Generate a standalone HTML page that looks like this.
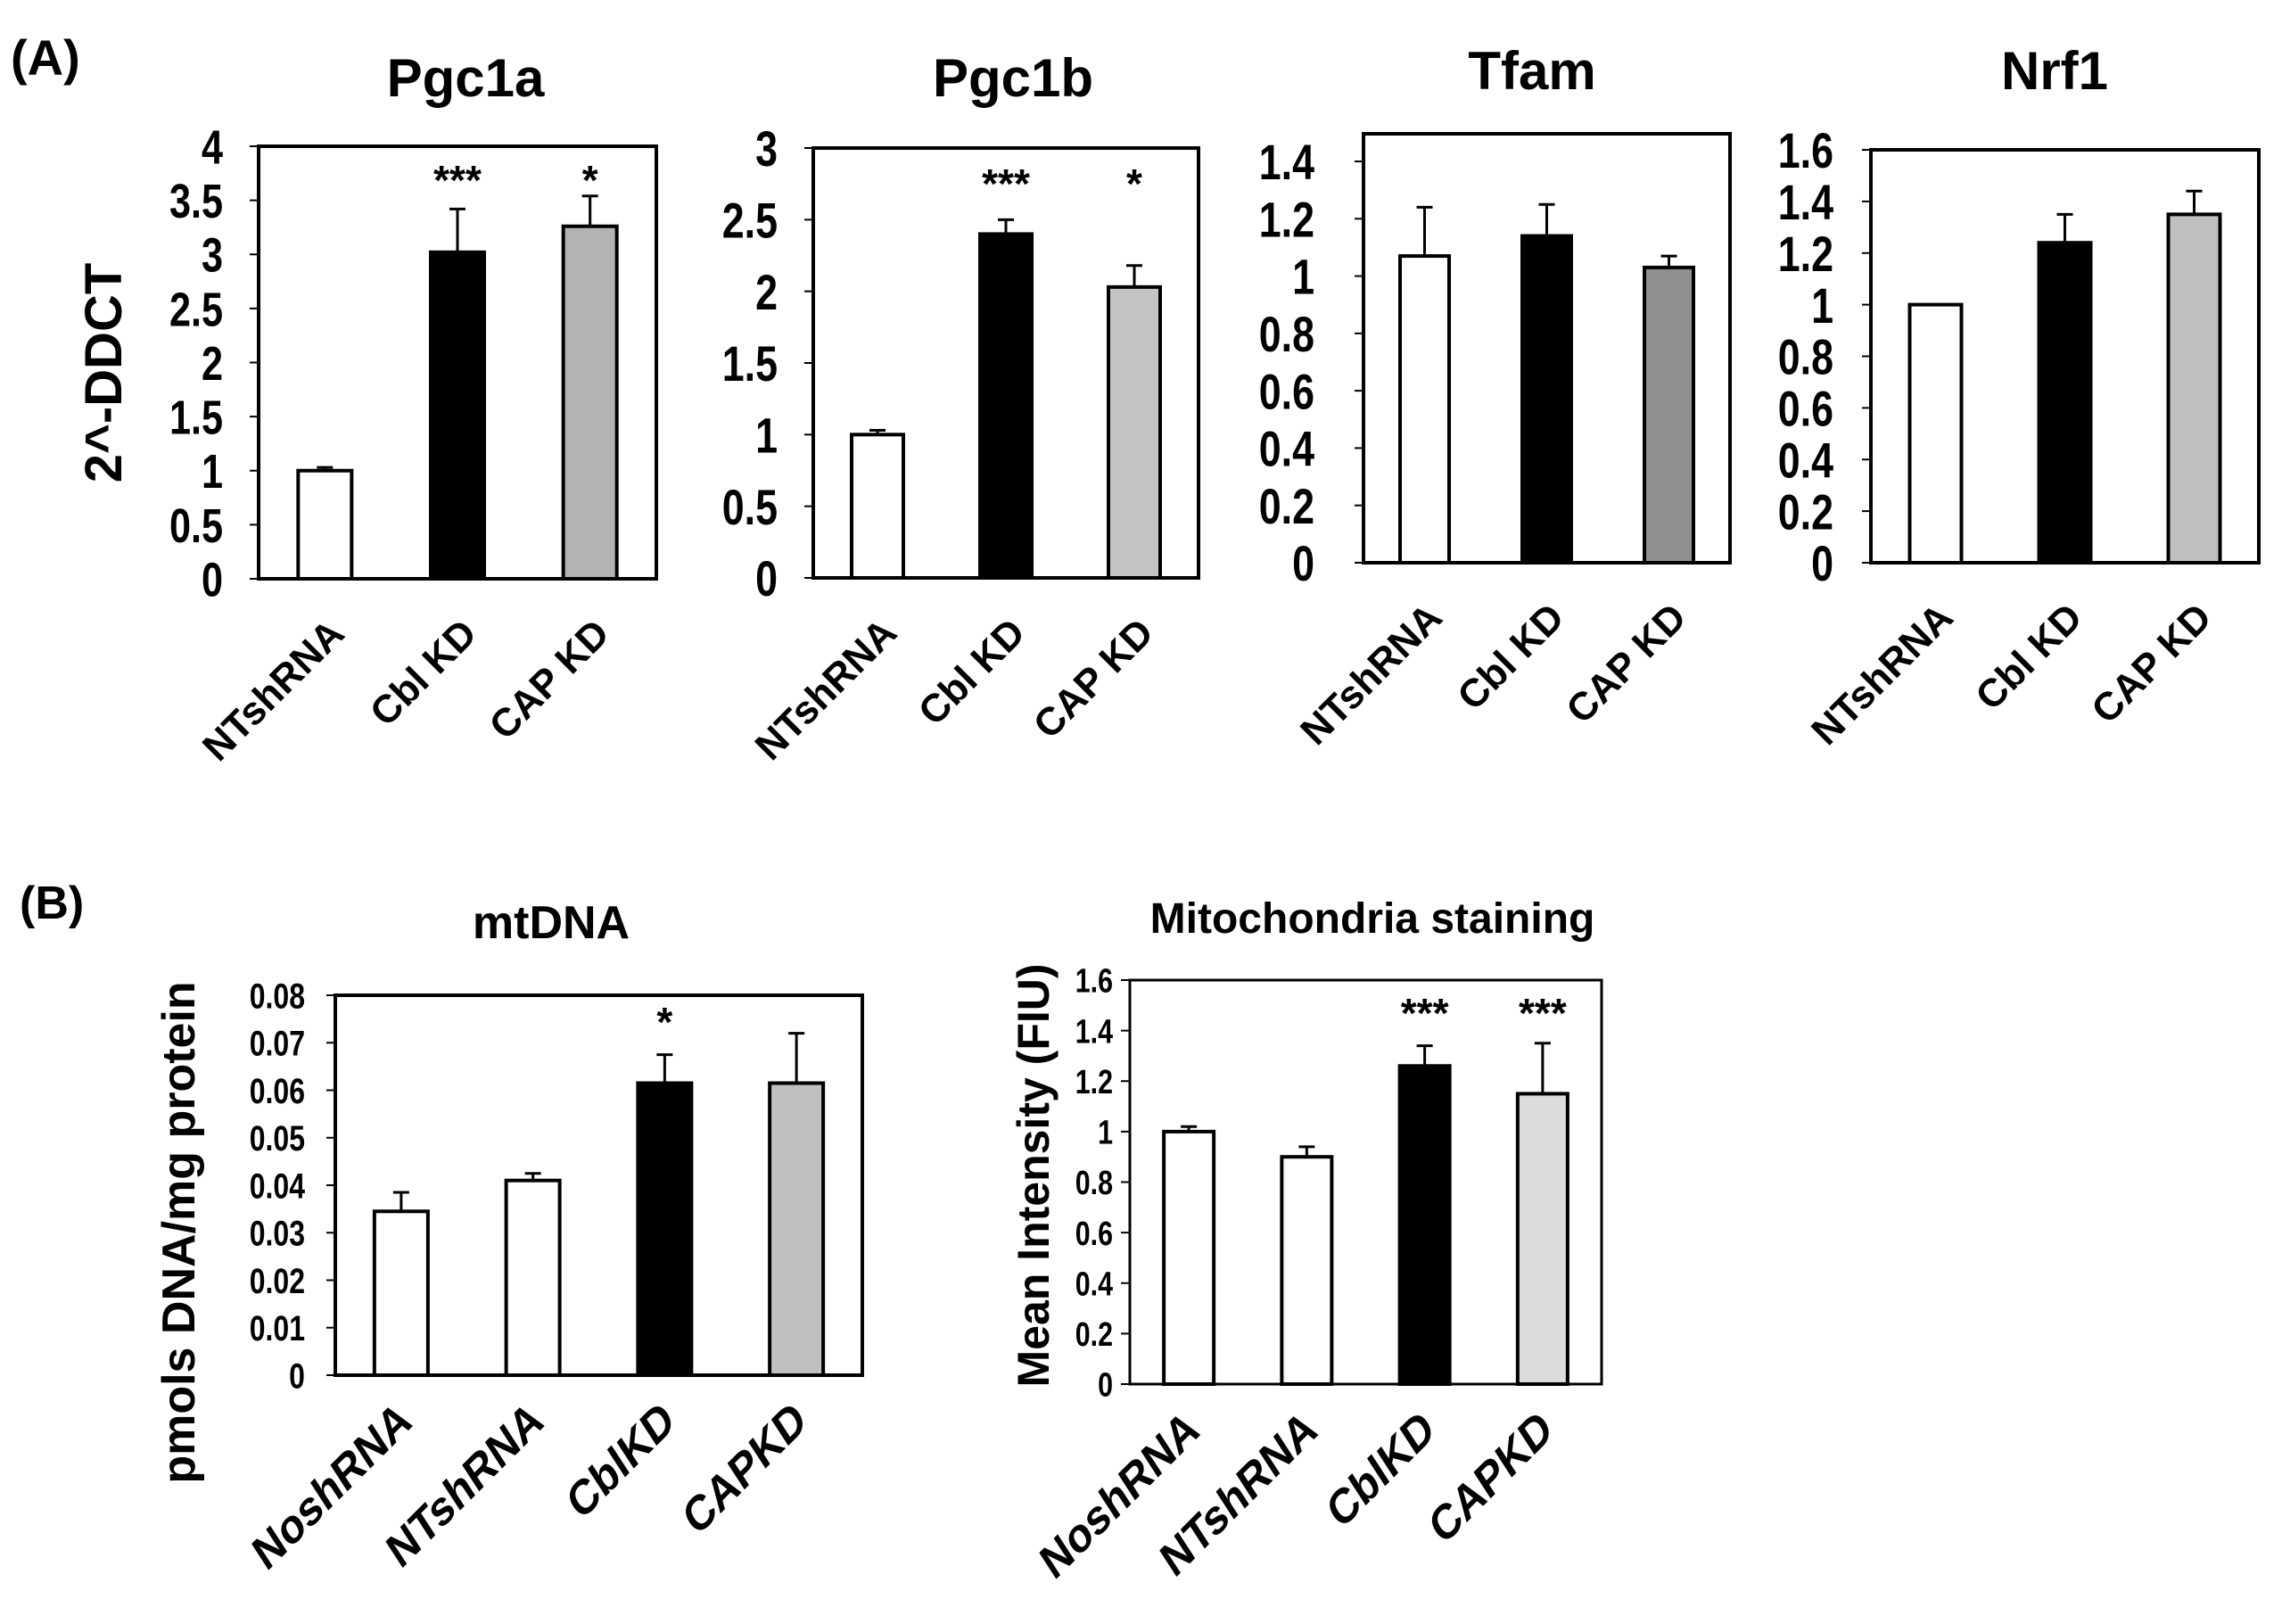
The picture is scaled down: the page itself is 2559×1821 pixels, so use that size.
<!DOCTYPE html>
<html><head><meta charset="utf-8"><style>
html,body{margin:0;padding:0;background:#fff;}
svg{display:block;}
text{font-family:"Liberation Sans",sans-serif;font-weight:bold;fill:#000;}
</style></head><body>
<svg id="fig" width="2559" height="1821" viewBox="0 0 2559 1821" xmlns="http://www.w3.org/2000/svg">
<text x="12" y="84" font-size="56">(A)</text>
<text x="22" y="1030" font-size="52" font-weight="normal">(B)</text>
</svg>
<script>
// ---- data ----
const catsA = ["NTshRNA", "Cbl KD", "CAP KD"];
const catsB = ["NoshRNA", "NTshRNA", "CblKD", "CAPKD"];
const pgc1aValues = [1.0, 3.02, 3.26];
const pgc1aErrors = [0.03, 0.40, 0.28];
const pgc1aStars = ["", "***", "*"];
const pgc1aTicks = ["0","0.5","1","1.5","2","2.5","3","3.5","4"];
const pgc1bValues = [1.0, 2.40, 2.03];
const pgc1bErrors = [0.03, 0.10, 0.15];
const pgc1bStars = ["", "***", "*"];
const pgc1bTicks = ["0","0.5","1","1.5","2","2.5","3"];
const tfamValues = [1.07, 1.14, 1.03];
const tfamErrors = [0.17, 0.11, 0.04];
const tfamStars = ["", "", ""];
const tfamTicks = ["0","0.2","0.4","0.6","0.8","1","1.2","1.4"];
const nrf1Values = [1.0, 1.24, 1.35];
const nrf1Errors = [0.0, 0.11, 0.09];
const nrf1Stars = ["", "", ""];
const nrf1Ticks = ["0","0.2","0.4","0.6","0.8","1","1.2","1.4","1.6"];
const mtdnaValues = [0.0345, 0.041, 0.0615, 0.0615];
const mtdnaErrors = [0.004, 0.0015, 0.006, 0.0105];
const mtdnaStars = ["", "", "*", ""];
const mtdnaTicks = ["0","0.01","0.02","0.03","0.04","0.05","0.06","0.07","0.08"];
const mitoValues = [1.0, 0.90, 1.26, 1.15];
const mitoErrors = [0.02, 0.04, 0.08, 0.20];
const mitoStars = ["", "", "***", "***"];
const mitoTicks = ["0","0.2","0.4","0.6","0.8","1","1.2","1.4","1.6"];

const NS = "http://www.w3.org/2000/svg";
const svg = document.getElementById("fig");
function mk(tag, attrs, parent) {
  const e = document.createElementNS(NS, tag);
  for (const k in attrs) e.setAttribute(k, attrs[k]);
  (parent || svg).appendChild(e);
  return e;
}

function drawPanel(cfg, cats, values, errors, stars, ticks) {
  const g = mk("g", {});
  
  
  const tickVals = ticks.map(Number);
  const tmax = tickVals[tickVals.length - 1];
  const y = v => cfg.y0 - (v / tmax) * (cfg.y0 - cfg.yTop);
  const n = cats.length;
  const slot = (cfg.right - cfg.left) / n;
  const xc = i => cfg.left + slot * (i + 0.5) + (cfg.shift || 0);

  const t = mk("text", {x: cfg.titleX, y: cfg.titleY, "font-size": cfg.titleSize, "text-anchor": "middle"}, g);
  t.textContent = cfg.title;
  
  

  const fr = mk("rect", {x: cfg.left, y: cfg.boxTop, width: cfg.right - cfg.left, height: cfg.y0 - cfg.boxTop, fill: "none", stroke: "#000", "stroke-width": cfg.frameW}, g);
  
  

  tickVals.forEach((v, i) => {
    const ty = y(v);
    const tl = mk("line", {x1: cfg.left - 10, x2: cfg.left, y1: ty, y2: ty, stroke: "#000", "stroke-width": 2}, g);
    
    
    const lab = mk("text", {x: cfg.labRight, y: ty + cfg.tickSize * 0.36, "font-size": cfg.tickSize, "text-anchor": "end"}, g);
    if (cfg.condensed) lab.setAttribute("transform", `translate(${cfg.labRight},0) scale(0.8,1) translate(${-cfg.labRight},0)`);
    lab.textContent = ticks[i];
    
    
  });

  values.forEach((v, i) => {
    const cx = xc(i);
    const top = y(v);
    const b = mk("rect", {x: cx - cfg.barW / 2, y: top, width: cfg.barW, height: cfg.y0 - top, fill: cfg.colors[i], stroke: "#000", "stroke-width": 4}, g);
    
    
    if (errors[i] > 0) {
      const et = y(v + errors[i]);
      const el = mk("line", {x1: cx, x2: cx, y1: top, y2: et, stroke: "#000", "stroke-width": 3}, g);
      
      
      const ec = mk("line", {x1: cx - 9, x2: cx + 9, y1: et, y2: et, stroke: "#000", "stroke-width": 3}, g);
      
      
    }
    if (stars[i]) {
      const s = mk("text", {x: cx, y: cfg.starY, "font-size": 46, "text-anchor": "middle"}, g);
      s.textContent = stars[i];
      
      
    }
    const lx = cx + cfg.labDx, ly = cfg.y0 + cfg.labDy;
    const xl = mk("text", {x: 0, y: 0, "font-size": cfg.catSize, "text-anchor": "end",
      transform: `translate(${lx},${ly}) rotate(-45)` + (cfg.italic ? " skewX(-12)" : "")}, g);
    xl.textContent = cats[i];
    
    
  });

  if (cfg.yTitle) {
    const yt = mk("text", {x: 0, y: 0, "font-size": cfg.yTitleSize, "text-anchor": "middle",
      transform: `translate(${cfg.yTitleX},${cfg.yTitleY}) rotate(-90)`}, g);
    yt.textContent = cfg.yTitle;
    
    
  }
}

const cA = ["#fff", "#000", "#b4b4b4"];
drawPanel({name:"pgc1a", title:"Pgc1a", titleX:522, titleY:108, titleSize:60, left:290, right:736, boxTop:164, yTop:164, y0:649,
  frameW:4, labRight:250, tickSize:54, condensed:true, barW:60, colors:cA, starY:218, labDx:24, labDy:64, catSize:44,
  yTitle:"2^-DDCT", yTitleSize:58, yTitleX:136, yTitleY:418}, catsA, pgc1aValues, pgc1aErrors, pgc1aStars, pgc1aTicks);
drawPanel({name:"pgc1b", title:"Pgc1b", titleX:1136, titleY:108, titleSize:60, left:912, right:1344, boxTop:166, yTop:166, y0:648,
  frameW:4, labRight:872, tickSize:56, condensed:true, barW:58, colors:["#fff","#000","#c4c4c4"], starY:222, labDx:24, labDy:64, catSize:44}, catsA, pgc1bValues, pgc1bErrors, pgc1bStars, pgc1bTicks);
drawPanel({name:"tfam", title:"Tfam", titleX:1718, titleY:100, titleSize:60, left:1529, right:1940, boxTop:150, yTop:181, y0:631,
  frameW:4, labRight:1474, tickSize:56, condensed:true, barW:55, colors:["#fff","#000","#909090"], starY:200, labDx:22, labDy:64, catSize:44}, catsA, tfamValues, tfamErrors, tfamStars, tfamTicks);
drawPanel({name:"nrf1", title:"Nrf1", titleX:2304, titleY:100, titleSize:60, left:2098, right:2533, boxTop:168, yTop:168, y0:631,
  frameW:4, labRight:2056, tickSize:56, condensed:true, barW:58, colors:["#fff","#000","#c0c0c0"], starY:200, labDx:22, labDy:64, catSize:44}, catsA, nrf1Values, nrf1Errors, nrf1Stars, nrf1Ticks);
drawPanel({name:"mtdna", title:"mtDNA", titleX:618, titleY:1052, titleSize:52, left:376, right:967, boxTop:1116, yTop:1116, y0:1542,
  frameW:4, labRight:342, tickSize:40, condensed:true, barW:60, colors:["#fff","#fff","#000","#c0c0c0"], starY:1162, labDx:14, labDy:56, catSize:50, italic:true,
  yTitle:"pmols DNA/mg protein", yTitleSize:52, yTitleX:218, yTitleY:1382}, catsB, mtdnaValues, mtdnaErrors, mtdnaStars, mtdnaTicks);
drawPanel({name:"mito", title:"Mitochondria staining", titleX:1539, titleY:1046, titleSize:48, left:1267, right:1796, boxTop:1099, yTop:1099, y0:1552,
  frameW:3, labRight:1248, tickSize:38, condensed:true, barW:56, colors:["#fff","#fff","#000","#dcdcdc"], starY:1152, labDx:14, labDy:56, catSize:50, italic:true,
  yTitle:"Mean Intensity (FIU)", yTitleSize:50, yTitleX:1176, yTitleY:1318}, catsB, mitoValues, mitoErrors, mitoStars, mitoTicks);
</script>
</body></html>
